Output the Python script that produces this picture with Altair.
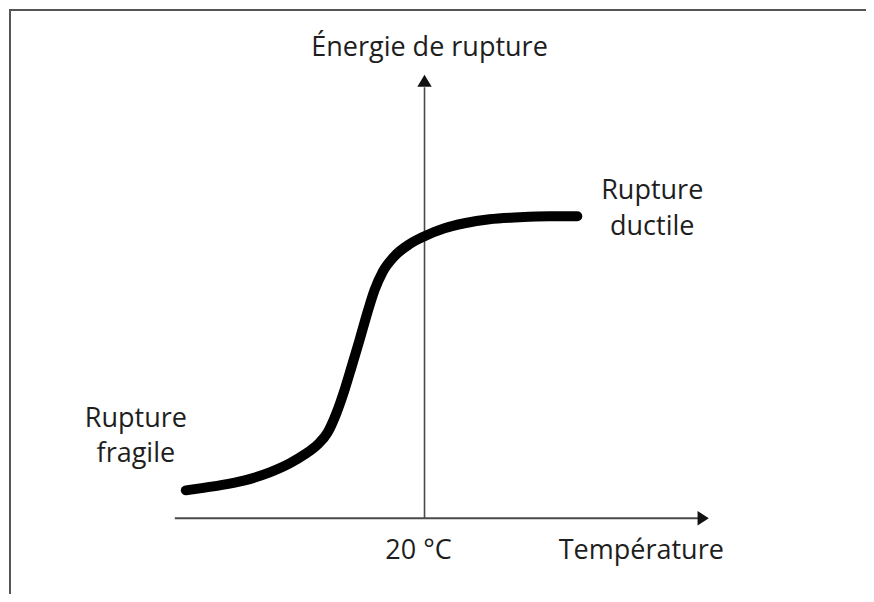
import altair as alt
import pandas as pd

# Schematic units: temperature in degC (20 degC at the vertical axis), energy in arbitrary units (0 at the T axis)
curve_t = [-27.8, -25, -21, -16, -11, -7, -4, -1.4, 0.6, 2.4, 4, 5.4, 7, 8.6, 10, 11.6, 14, 17, 20, 24, 28, 33, 39, 45, 50.6]
curve_e = [5.6, 6, 6.6, 7.6, 9.2, 11, 12.8, 14.8, 17.2, 21.2, 25.8, 30.4, 35.8, 41.4, 45.8, 49.4, 52.6, 55, 56.6, 58.2, 59.2, 60, 60.4, 60.6, 60.6]

# axis lines
h_axis_t = [-30, 75]
v_axis_e = [0, 86.5]
h_arrow_t = 75.8
v_arrow_e = 87.8

label_text = ["Énergie de rupture", "20 °C", "Température", "Rupture", "fragile", "Rupture", "ductile"]
label_t = [21, 18.8, 63.4, -37.8, -37.8, 65.6, 65.6]
label_e = [92.8, -8.2, -8.2, 18.4, 11.2, 64.0, 56.8]

X_DOM = [-63.4, 108.2]
Y_DOM = [-15, 102.2]

xs = alt.Scale(domain=X_DOM, nice=False, zero=False)
ys = alt.Scale(domain=Y_DOM, nice=False, zero=False)

curve_df = pd.DataFrame({"t": curve_t, "e": curve_e})
haxis_df = pd.DataFrame({"t": h_axis_t, "e": [0, 0]})
vaxis_df = pd.DataFrame({"t": [20, 20], "e": v_axis_e})
harrow_df = pd.DataFrame({"t": [h_arrow_t], "e": [0]})
varrow_df = pd.DataFrame({"t": [20], "e": [v_arrow_e]})
labels_df = pd.DataFrame({"label": label_text, "t": label_t, "e": label_e})

AX = "#4a4a4a"

haxis = alt.Chart(haxis_df).mark_line(color=AX, strokeWidth=2).encode(
    x=alt.X("t:Q", scale=xs, axis=None), y=alt.Y("e:Q", scale=ys, axis=None))
vaxis = alt.Chart(vaxis_df).mark_line(color=AX, strokeWidth=1.6).encode(
    x=alt.X("t:Q", scale=xs, axis=None), y=alt.Y("e:Q", scale=ys, axis=None))
harrow = alt.Chart(harrow_df).mark_point(
    shape="M-0.7,-0.9L0.7,0L-0.7,0.9Z", size=256, filled=True, color="#111", opacity=1
).encode(x=alt.X("t:Q", scale=xs, axis=None), y=alt.Y("e:Q", scale=ys, axis=None))
varrow = alt.Chart(varrow_df).mark_point(
    shape="M-0.9,0.75L0,-0.75L0.9,0.75Z", size=256, filled=True, color="#111", opacity=1
).encode(x=alt.X("t:Q", scale=xs, axis=None), y=alt.Y("e:Q", scale=ys, axis=None))

curve = alt.Chart(curve_df).mark_line(
    color="black", strokeWidth=10, strokeCap="round", strokeJoin="round", interpolate="monotone"
).encode(x=alt.X("t:Q", scale=xs, axis=None), y=alt.Y("e:Q", scale=ys, axis=None))

labels = alt.Chart(labels_df).mark_text(
    font="Open Sans", fontSize=27, color="#1e1e1e", align="center", baseline="alphabetic"
).encode(x=alt.X("t:Q", scale=xs, axis=None), y=alt.Y("e:Q", scale=ys, axis=None), text="label:N")

frame_left = alt.Chart(pd.DataFrame({"k": [0]})).mark_rule(color="#555", strokeWidth=2).encode(
    x=alt.value(2), y=alt.value(0), y2=alt.value(586))
frame_top = alt.Chart(pd.DataFrame({"k": [0]})).mark_rule(color="#555", strokeWidth=2).encode(
    x=alt.value(1), x2=alt.value(858), y=alt.value(1))

chart = alt.layer(frame_left, frame_top, haxis, vaxis, harrow, varrow, curve, labels).properties(
    width=858, height=586,
    autosize=alt.AutoSizeParams(type="fit", contains="padding"),
    padding=0,
).configure_view(stroke=None)

chart.save("out.html", embed_options={"renderer": "svg", "actions": False})
